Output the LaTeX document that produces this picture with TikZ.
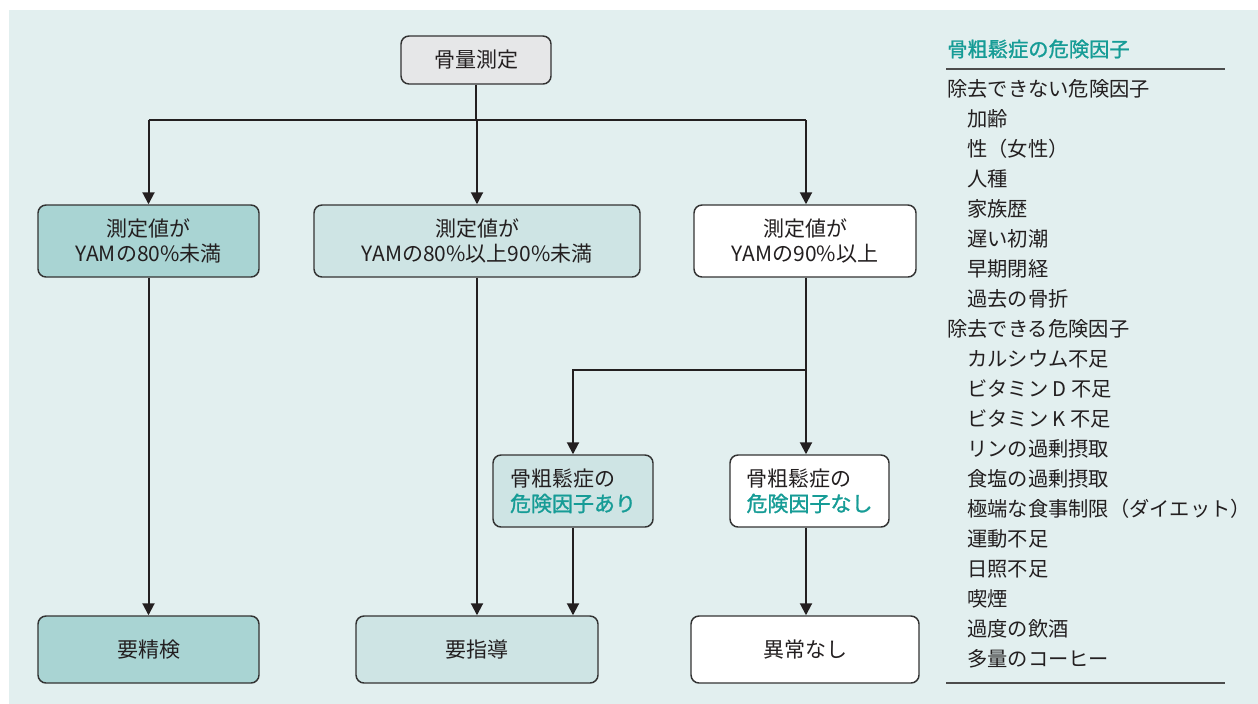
\documentclass[tikz,border=0pt]{standalone}
\usepackage{fontspec}
\setmainfont{Noto Sans CJK JP}
\newfontfamily\medfont[FakeBold=1.2]{Noto Sans CJK JP}
\usetikzlibrary{arrows.meta}
\definecolor{bgc}{HTML}{E2EFEF}
\definecolor{dteal}{HTML}{A9D4D3}
\definecolor{lteal}{HTML}{CEE4E4}
\definecolor{gbox}{HTML}{E6E7E8}
\definecolor{txt}{HTML}{231F20}
\definecolor{tealtxt}{HTML}{169C96}
\definecolor{edge}{HTML}{333333}
\begin{document}
\begin{tikzpicture}[x=0.75pt,y=-0.75pt,
  boxbase/.style={draw=edge,line width=1.1pt,rounded corners=6pt,inner sep=0pt,
    text=txt,font=\fontsize{15.75}{18.75}\selectfont,align=center},
  conn/.style={draw=txt,line width=1.5pt},
  arr/.style={conn,-{Triangle[width=9pt,length=9pt]}},
  listitem/.style={anchor=west,inner sep=0pt,text=txt,font=\fontsize{15.2}{18}\selectfont},
  rulestyle/.style={draw=black!70,line width=1.1pt}]
\useasboundingbox (0,0) rectangle (1258,704);
\fill[bgc] (9,10) rectangle (1258,704);
% boxes
\node[boxbase,fill=gbox,minimum width=112.5pt,minimum height=36pt] (top) at (476,60) {骨量測定};
\node[boxbase,fill=dteal,minimum width=165.75pt,minimum height=54pt] (b1) at (148.5,241) {測定値が\\YAMの80\%未満};
\node[boxbase,fill=lteal,minimum width=244.5pt,minimum height=54pt] (b2) at (477,241) {測定値が\\YAMの80\%以上90\%未満};
\node[boxbase,fill=white,minimum width=166.5pt,minimum height=54pt] (b3) at (805,241) {測定値が\\YAMの90\%以上};
\node[boxbase,fill=lteal,minimum width=120pt,minimum height=54pt,align=left] (ari) at (573,491) {骨粗鬆症の\\\textcolor{tealtxt}{\medfont 危険因子あり}};
\node[boxbase,fill=white,minimum width=119.25pt,minimum height=54pt,align=left] (nashi) at (809.5,491) {骨粗鬆症の\\\textcolor{tealtxt}{\medfont 危険因子なし}};
\node[boxbase,fill=dteal,minimum width=165.75pt,minimum height=50.25pt] (seiken) at (148.5,649.5) {要精検};
\node[boxbase,fill=lteal,minimum width=181.5pt,minimum height=50.25pt] (shido) at (477,649.5) {要指導};
\node[boxbase,fill=white,minimum width=171pt,minimum height=50.25pt] (ijou) at (805,649.5) {異常なし};
% connectors
\coordinate (j1) at (477,120);
\coordinate (j2) at (806,370);
\draw[conn] (top.south) -- (top.south |- j1);
\draw[conn] (b1.north |- j1) -- (j2 |- j1);
\draw[arr] (b1.north |- j1) -- (b1.north);
\draw[arr] (j1) -- (b2.north);
\draw[arr] (j2 |- j1) -- (j2 |- b3.north);
\draw[arr] (b1.south) -- (seiken.north);
\draw[arr] (b2.south) -- (shido.north);
\draw[conn] (j2 |- b3.south) -- (j2);
\draw[arr] (j2) -| (ari.north);
\draw[arr] (j2) -- (j2 |- nashi.north);
\draw[arr] (ari.south) -- (ari.south |- shido.north);
\draw[arr] (j2 |- nashi.south) -- (j2 |- ijou.north);
% list
\node[listitem,text=tealtxt,font=\fontsize{15.2}{18}\selectfont\medfont] (lt) at (947,49) {骨粗鬆症の危険因子};
\coordinate (r1a) at (946,69); \coordinate (r1b) at (1225,69);
\draw[rulestyle] (r1a) -- (r1b);
\node[listitem] (h1) at (947,89) {除去できない危険因子};
\node[listitem] (i1) at (967,119) {加齢};
\node[listitem] (i2) at (967,149) {性（女性）};
\node[listitem] (i3) at (967,179) {人種};
\node[listitem] (i4) at (967,209) {家族歴};
\node[listitem] (i5) at (967,239) {遅い初潮};
\node[listitem] (i6) at (967,269) {早期閉経};
\node[listitem] (i7) at (967,299) {過去の骨折};
\node[listitem] (h2) at (947,329) {除去できる危険因子};
\node[listitem] (k1) at (967,359) {カルシウム不足};
\node[listitem] (k2) at (967,389) {ビタミン D 不足};
\node[listitem] (k3) at (967,419) {ビタミン K 不足};
\node[listitem] (k4) at (967,449) {リンの過剰摂取};
\node[listitem] (k5) at (967,479) {食塩の過剰摂取};
\node[listitem] (k6) at (967,509) {極端な食事制限（ダイエット）};
\node[listitem] (k7) at (967,539) {運動不足};
\node[listitem] (k8) at (967,569) {日照不足};
\node[listitem] (k9) at (967,599) {喫煙};
\node[listitem] (k10) at (967,629) {過度の飲酒};
\node[listitem] (k11) at (967,659) {多量のコーヒー};
\coordinate (r2a) at (946,683); \coordinate (r2b) at (1225,683);
\draw[rulestyle] (r2a) -- (r2b);
\end{tikzpicture}
\end{document}
